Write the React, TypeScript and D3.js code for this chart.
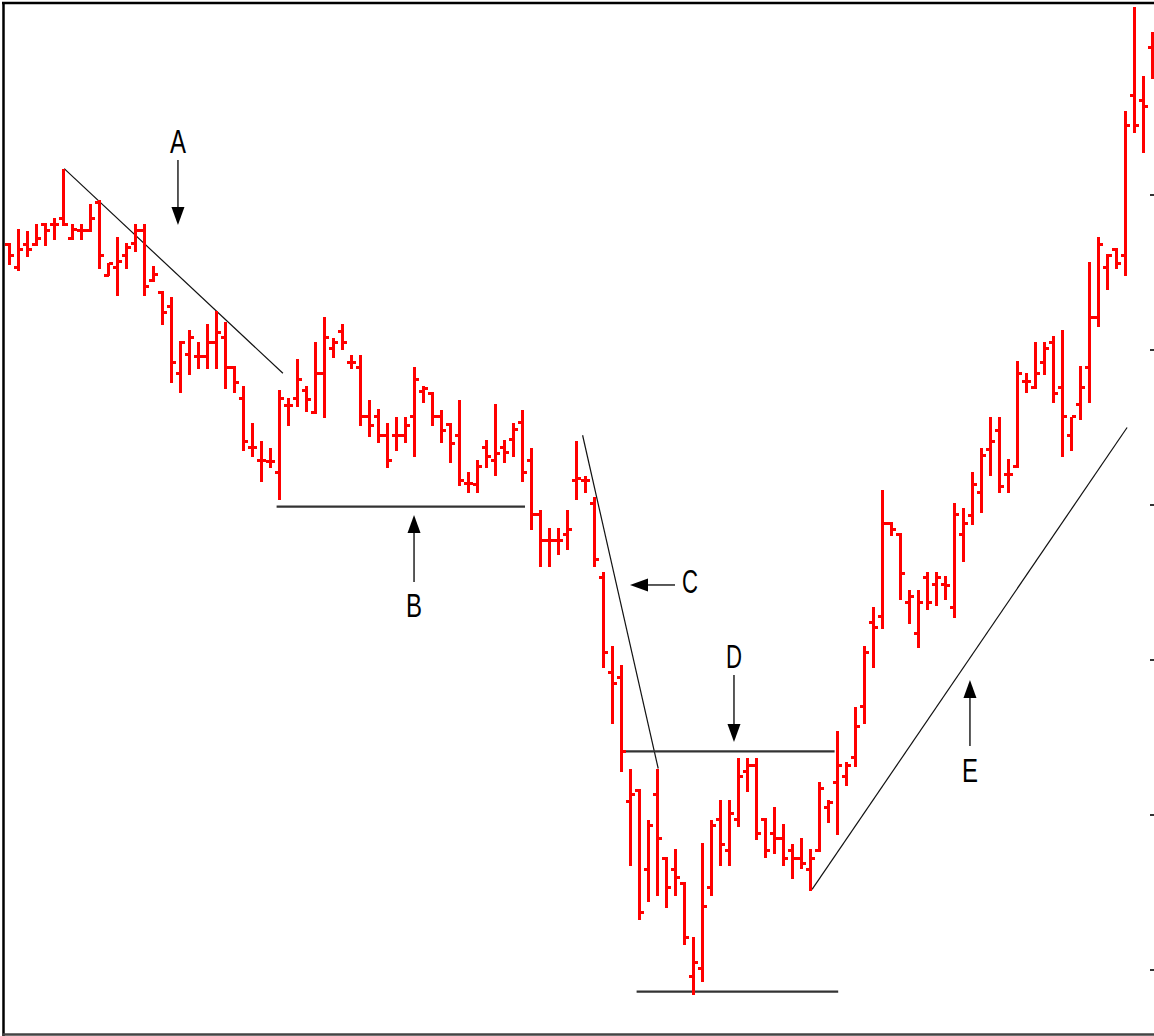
import * as d3 from 'd3'

// OHLC bars (price units, unlabeled axis)
const opens = [
  56.8, 55.3, 56.8, 56.8, 58.1, 58.1, 58.5, 57.2, 57.7, 57.7, 59.5, 54.8, 55.3, 56.1, 56.9, 57.7,
  54.5, 53.7, 52.8, 48.5, 49.7, 49.6, 49.6, 50.5, 50.8, 48.9, 46.9, 43.7, 42.9, 42.8, 42.1, 46.4,
  46.9, 47.4, 46.0, 48.5, 50.1, 51.2, 49.2, 48.9, 45.7, 45.7, 44.5, 44.5, 44.5, 45.7, 47.3, 47.2,
  45.7, 45.2, 44.5, 41.4, 41.3, 43.7, 42.9, 43.7, 44.2, 45.3, 42.9, 39.4, 37.7, 37.7, 38.1, 41.6,
  41.6, 40.1, 35.3, 29.2, 28.9, 20.9, 21.6, 16.5, 21.3, 17.2, 16.5, 15.6, 9.6, 10.1, 15.3, 19.7,
  17.7, 19.7, 22.8, 23.2, 19.7, 18.8, 18.5, 17.7, 17.2, 16.5, 17.7, 20.5, 22.1, 22.5, 23.7, 27.0,
  32.4, 32.8, 38.8, 38.1, 33.7, 31.7, 35.3, 34.9, 34.9, 33.4, 38.1, 39.3, 40.8, 43.6, 44.8, 42.0,
  42.5, 48.0, 47.6, 49.2, 50.5, 47.6, 44.5, 46.5, 48.9, 52.1, 55.3, 56.5, 56.1, 66.4, 66.1, 69.5,
]
const highs = [
  56.9, 57.8, 57.7, 58.1, 58.2, 58.5, 61.7, 58.1, 58.1, 59.4, 59.7, 55.6, 57.3, 56.9, 58.1, 58.1,
  55.4, 53.8, 53.4, 50.6, 51.3, 50.5, 51.7, 52.5, 51.8, 49.0, 47.7, 45.3, 44.1, 43.7, 47.4, 46.9,
  49.4, 47.7, 50.5, 52.1, 50.8, 51.7, 49.7, 49.7, 46.8, 46.2, 45.3, 45.7, 45.7, 48.9, 47.7, 47.3,
  46.1, 45.3, 46.8, 42.1, 42.9, 44.2, 46.5, 44.2, 45.3, 46.1, 43.7, 39.7, 38.5, 38.5, 39.7, 44.1,
  41.9, 40.5, 35.7, 30.9, 29.7, 23.0, 21.7, 19.7, 23.0, 17.3, 17.8, 15.7, 12.1, 18.2, 19.7, 21.0,
  21.0, 23.7, 23.7, 23.7, 19.8, 20.5, 19.4, 18.1, 18.5, 17.8, 22.1, 21.0, 25.4, 23.4, 27.0, 30.9,
  33.4, 41.0, 38.9, 38.2, 34.5, 34.5, 35.7, 35.7, 35.4, 40.1, 39.8, 42.1, 43.7, 45.7, 45.7, 43.0,
  49.3, 48.5, 50.5, 50.5, 50.9, 51.3, 45.7, 49.0, 55.7, 57.3, 56.2, 56.6, 65.4, 72.1, 67.7, 70.5,
]
const lows = [
  55.5, 55.1, 56.0, 56.7, 56.7, 57.1, 58.0, 57.1, 57.1, 57.6, 55.2, 54.8, 53.5, 55.2, 56.3, 53.5,
  54.4, 51.6, 47.9, 47.2, 48.4, 48.8, 48.8, 48.8, 47.5, 47.2, 43.5, 43.1, 41.5, 42.4, 40.3, 45.1,
  46.3, 46.0, 45.9, 45.6, 49.5, 50.0, 48.8, 45.1, 44.4, 44.0, 42.4, 43.5, 44.0, 43.1, 46.6, 45.1,
  44.0, 42.7, 41.2, 40.8, 40.8, 42.4, 41.9, 42.7, 43.1, 41.5, 38.4, 36.0, 36.0, 36.8, 37.1, 40.3,
  40.8, 36.0, 29.5, 25.9, 22.8, 16.7, 13.2, 14.4, 14.8, 14.0, 14.8, 11.6, 8.4, 9.2, 14.8, 16.7,
  16.7, 19.2, 21.5, 18.4, 17.2, 17.5, 16.7, 15.9, 16.5, 15.1, 17.6, 19.5, 18.7, 21.9, 23.1, 25.9,
  29.5, 32.0, 38.0, 33.9, 32.3, 30.8, 33.2, 33.5, 33.9, 32.7, 36.3, 38.7, 39.5, 41.9, 40.8, 40.8,
  42.4, 47.2, 47.5, 48.4, 46.6, 43.1, 43.5, 45.5, 46.6, 51.5, 53.9, 55.2, 54.8, 64.0, 62.7, 67.5,
]
const closes = [
  56.1, 56.5, 56.5, 57.2, 57.7, 58.1, 58.1, 57.8, 57.7, 58.5, 56.1, 55.6, 55.7, 56.6, 57.7, 54.1,
  54.9, 52.4, 49.2, 50.5, 50.8, 49.6, 50.5, 51.1, 48.9, 47.9, 44.1, 43.7, 42.9, 42.8, 46.9, 46.4,
  48.1, 46.8, 48.5, 50.8, 50.5, 50.5, 49.2, 45.7, 45.1, 44.5, 42.9, 44.5, 45.1, 48.1, 47.5, 45.7,
  44.8, 44.0, 41.6, 41.4, 42.5, 43.1, 43.3, 43.4, 44.9, 42.1, 39.4, 37.7, 37.7, 37.7, 38.4, 41.7,
  41.6, 36.5, 30.5, 28.5, 24.1, 21.3, 13.7, 19.3, 18.5, 15.3, 16.0, 12.1, 10.5, 14.1, 19.3, 18.1,
  20.1, 22.5, 23.2, 18.8, 17.7, 18.5, 17.2, 17.2, 16.9, 17.2, 21.7, 20.8, 23.2, 23.2, 25.7, 30.5,
  32.1, 38.8, 38.4, 35.6, 34.1, 33.7, 33.7, 35.3, 34.8, 39.4, 38.8, 41.3, 43.2, 44.1, 41.2, 42.0,
  48.5, 48.0, 48.5, 50.1, 47.2, 45.7, 45.7, 47.6, 52.1, 56.8, 56.1, 55.6, 64.5, 64.5, 65.7, 68.5,
]
const yTicks = [10, 20, 30, 40, 50, 60]

// drawn lines: [bar index, price] pairs
const trendLines = [
  [[6.1, 61.7], [30.4, 48.5]],
  [[63.7, 44.5], [72.1, 23.0]],
  [[89.2, 15.2], [124.2, 45.0]],
]
const levelLines = [
  [29.7, 57.3, 39.9],
  [68.1, 91.7, 24.1],
  [69.7, 92.1, 8.6],
]
const labels = ['A', 'B', 'C', 'D', 'E']
const arrowTips = [[18.74, 58.06], [44.97, 39.35], [68.97, 34.84], [80.52, 24.71], [106.74, 28.71]]
const arrowTails = [[18.74, 62.26], [44.97, 35.03], [73.97, 34.84], [80.52, 29.03], [106.74, 24.45]]
const labelAt = [[18.74, 62.71], [44.97, 32.77], [75.63, 34.32], [80.52, 29.48], [106.74, 22.13]]

const W = 1154
const H = 1036
const RED = '#ff0000'

const x = d3.scaleLinear().domain([0, opens.length - 1]).range([9.3, 1152.3])
const y = d3.scaleLinear().domain([10, 60]).range([970, 195])

function Arrow({ tip, tail }: { tip: number[]; tail: number[] }) {
  const tx = x(tip[0]), ty = y(tip[1])
  const sx = x(tail[0]), sy = y(tail[1])
  const ang = Math.atan2(ty - sy, tx - sx)
  const len = 18, half = 6.5
  const bx = tx - Math.cos(ang) * len, by = ty - Math.sin(ang) * len
  const px = -Math.sin(ang) * half, py = Math.cos(ang) * half
  return (
    <g>
      <line x1={sx} y1={sy} x2={bx} y2={by} stroke="#000" strokeWidth={1.3} />
      <path d={`M${tx},${ty}L${bx + px},${by + py}L${bx - px},${by - py}Z`} fill="#000" />
    </g>
  )
}

export default function App() {
  return (
    <svg
      width={W}
      height={H}
      style={{ position: 'absolute', left: 0, top: 0, background: '#fff' }}
    >
      <rect x={0} y={0} width={W} height={H} fill="#fff" />
      {/* frame */}
      <line x1={3.5} y1={2} x2={3.5} y2={1036} stroke="#000" strokeWidth={2.5} />
      <line x1={2} y1={3} x2={W} y2={3} stroke="#000" strokeWidth={2.5} />
      <line x1={2} y1={1034.5} x2={W} y2={1034.5} stroke="#444" strokeWidth={2.5} />

      {/* right axis ticks */}
      {yTicks.map((t) => (
        <line key={t} x1={W - 4} x2={W} y1={y(t)} y2={y(t)} stroke="#333" strokeWidth={2} />
      ))}

      {/* annotation lines */}
      {trendLines.map((l, i) => (
        <line key={'t' + i} x1={x(l[0][0])} y1={y(l[0][1])} x2={x(l[1][0])} y2={y(l[1][1])}
          stroke="#111" strokeWidth={1.2} />
      ))}
      {levelLines.map((l, i) => (
        <line key={'l' + i} x1={x(l[0])} x2={x(l[1])} y1={y(l[2])} y2={y(l[2])}
          stroke="#333" strokeWidth={2.2} />
      ))}

      {/* OHLC bars */}
      <g stroke={RED} strokeWidth={3} shapeRendering="crispEdges">
        {opens.map((o, i) => {
          const cx = Math.round(x(i)) + 0.5
          return (
            <g key={i}>
              <line x1={cx} x2={cx} y1={y(highs[i])} y2={y(lows[i])} />
              <line x1={cx - 4.5} x2={cx} y1={y(o)} y2={y(o)} />
              <line x1={cx} x2={cx + 4.5} y1={y(closes[i])} y2={y(closes[i])} />
            </g>
          )
        })}
      </g>

      {/* arrows and letters */}
      {labels.map((s, i) => (
        <g key={s}>
          <Arrow tip={arrowTips[i]} tail={arrowTails[i]} />
          <text
            x={x(labelAt[i][0])}
            y={y(labelAt[i][1])}
            textAnchor="middle"
            fontFamily="'Liberation Sans Narrow', 'Liberation Sans', Arial, sans-serif"
            fontSize={34}
            textLength={16}
            lengthAdjust="spacingAndGlyphs"
            fill="#000"
          >
            {s}
          </text>
        </g>
      ))}
    </svg>
  )
}
